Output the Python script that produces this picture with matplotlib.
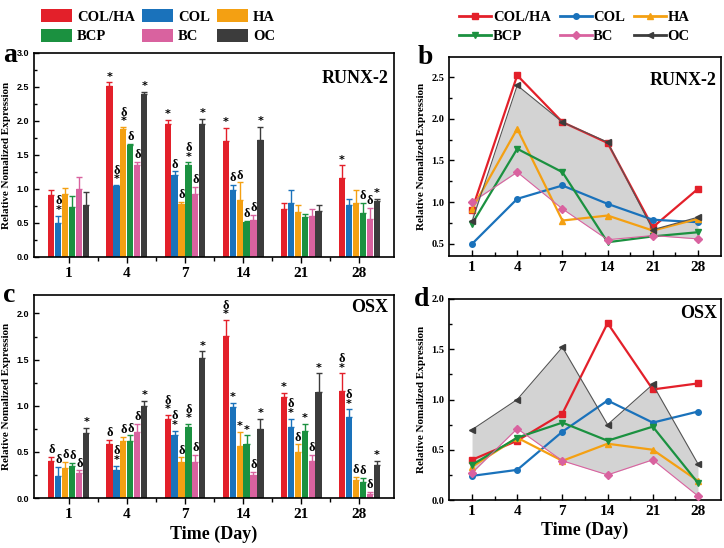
import matplotlib.pyplot as plt
import numpy as np
from matplotlib.patches import Patch
from matplotlib.lines import Line2D
from matplotlib.ticker import MultipleLocator

plt.rcParams['font.family'] = 'Liberation Serif'
plt.rcParams['font.weight'] = 'bold'

days = ['1', '4', '7', '14', '21', '28']
groups = ['COL/HA', 'COL', 'HA', 'BCP', 'BC', 'OC']
colors = ['#E3202A', '#1A72BB', '#F4A012', '#1B9140', '#D9629F', '#3C3C3C']
markers = ['s', 'o', '^', 'v', 'D', '<']

# RUNX-2 means (one list per group, days 1..28)
runx_colha = [0.91, 2.52, 1.96, 1.71, 0.70, 1.16]
runx_col = [0.50, 1.04, 1.20, 0.98, 0.79, 0.76]
runx_ha = [0.92, 1.88, 0.78, 0.84, 0.66, 0.80]
runx_bcp = [0.74, 1.64, 1.36, 0.52, 0.59, 0.64]
runx_bc = [1.00, 1.36, 0.92, 0.55, 0.60, 0.56]
runx_oc = [0.77, 2.40, 1.96, 1.72, 0.67, 0.82]
# upper error bars
runx_colha_err = [0.07, 0.05, 0.06, 0.19, 0.09, 0.19]
runx_col_err = [0.11, 0.02, 0.06, 0.08, 0.19, 0.10]
runx_ha_err = [0.09, 0.03, 0.03, 0.26, 0.10, 0.18]
runx_bcp_err = [0.15, 0.02, 0.03, 0.01, 0.04, 0.16]
runx_bc_err = [0.17, 0.04, 0.11, 0.07, 0.10, 0.16]
runx_oc_err = [0.18, 0.03, 0.07, 0.19, 0.10, 0.04]
# significance marks
runx_colha_sig = ['', '*', '*', '*', '', '*']
runx_col_sig = ['δ*', 'δ*', 'δ', 'δ', '', '']
runx_ha_sig = ['', 'δ*', 'δ', 'δ', '', '']
runx_bcp_sig = ['', 'δ', 'δ*', 'δ', '', 'δ']
runx_bc_sig = ['', 'δ', 'δ', 'δ', '', 'δ']
runx_oc_sig = ['', '*', '*', '*', '', '*']

# OSX means
osx_colha = [0.40, 0.59, 0.86, 1.76, 1.10, 1.16]
osx_col = [0.24, 0.30, 0.68, 0.99, 0.77, 0.88]
osx_ha = [0.33, 0.62, 0.39, 0.56, 0.50, 0.19]
osx_bcp = [0.35, 0.62, 0.77, 0.59, 0.73, 0.17]
osx_bc = [0.27, 0.71, 0.39, 0.25, 0.40, 0.04]
osx_oc = [0.70, 1.00, 1.52, 0.75, 1.15, 0.36]
osx_colha_err = [0.045, 0.04, 0.04, 0.17, 0.04, 0.19]
osx_col_err = [0.10, 0.05, 0.05, 0.04, 0.09, 0.08]
osx_ha_err = [0.06, 0.04, 0.05, 0.16, 0.08, 0.04]
osx_bcp_err = [0.03, 0.06, 0.03, 0.09, 0.07, 0.05]
osx_bc_err = [0.03, 0.09, 0.08, 0.03, 0.07, 0.03]
osx_oc_err = [0.06, 0.05, 0.07, 0.11, 0.20, 0.04]
osx_colha_sig = ['δ', 'δ', 'δ*', 'δ*', '*', 'δ*']
osx_col_sig = ['δ', 'δ*', 'δ*', '*', 'δ*', 'δ*']
osx_ha_sig = ['δ', 'δ', 'δ', '*', 'δ', 'δ']
osx_bcp_sig = ['δ', 'δ', 'δ*', '*', '*', 'δ']
osx_bc_sig = ['δ', 'δ', 'δ', 'δ', 'δ', 'δ']
osx_oc_sig = ['*', '*', '*', '*', '*', '*']

runx_means = [runx_colha, runx_col, runx_ha, runx_bcp, runx_bc, runx_oc]
runx_errs = [runx_colha_err, runx_col_err, runx_ha_err, runx_bcp_err, runx_bc_err, runx_oc_err]
runx_sigs = [runx_colha_sig, runx_col_sig, runx_ha_sig, runx_bcp_sig, runx_bc_sig, runx_oc_sig]
osx_means = [osx_colha, osx_col, osx_ha, osx_bcp, osx_bc, osx_oc]
osx_errs = [osx_colha_err, osx_col_err, osx_ha_err, osx_bcp_err, osx_bc_err, osx_oc_err]
osx_sigs = [osx_colha_sig, osx_col_sig, osx_ha_sig, osx_bcp_sig, osx_bc_sig, osx_oc_sig]

W, H = 724, 548
fig = plt.figure(figsize=(7.24, 5.48), dpi=100)


def px_axes(l, t, r, b):
    return fig.add_axes([l / W, 1 - b / H, (r - l) / W, (b - t) / H])


ax_a = px_axes(34, 53, 394, 257)
ax_b = px_axes(449, 57, 721, 256)
ax_c = px_axes(34, 295, 394, 498)
ax_d = px_axes(449, 299, 721, 500)

x = np.arange(len(days))
step = 0.12
bw = 0.105


def bar_panel(ax, means, errs, sigs, ylim, title, ty):
    for i in range(len(groups)):
        xs = x + (i - 2.5) * step
        ax.bar(xs, means[i], bw, color=colors[i], zorder=2)
        ax.errorbar(xs, means[i], yerr=[np.zeros(len(days)), errs[i]], fmt='none',
                    ecolor=colors[i], elinewidth=1.0, capsize=2.5, capthick=1.0, zorder=2)
        for j in range(len(days)):
            s = sigs[i][j]
            top = means[i][j] + errs[i][j]
            off = 0.5
            if '*' in s:
                ax.annotate('*', (xs[j], top), xytext=(0, off), textcoords='offset points',
                            ha='center', va='bottom', fontsize=8, family='DejaVu Sans', weight='bold')
                off += 5.5
            if 'δ' in s:
                ax.annotate('δ', (xs[j], top), xytext=(0, off), textcoords='offset points',
                            ha='center', va='bottom', fontsize=9)
    ax.set_xlim(-0.6, 5.6)
    ax.set_ylim(*ylim)
    ax.set_xticks(x)
    ax.set_xticks(x[:-1] + 0.5, minor=True)
    ax.set_xticklabels(days, fontsize=11, weight='bold')
    ax.tick_params(axis='x', which='major', direction='out', length=4, width=1)
    ax.tick_params(axis='x', which='minor', direction='out', length=3, width=1)
    ax.yaxis.set_major_locator(MultipleLocator(0.5))
    ax.yaxis.set_minor_locator(MultipleLocator(0.25))
    ax.tick_params(axis='y', which='both', direction='in', width=1, labelsize=6.5)
    ax.tick_params(axis='y', which='major', length=3.5)
    ax.tick_params(axis='y', which='minor', length=2)
    for lab in ax.get_yticklabels():
        lab.set_family('Liberation Sans')
        lab.set_weight('bold')
    for sp in ax.spines.values():
        sp.set_linewidth(1.2)
    ax.text(0.985, ty, title, transform=ax.transAxes, ha='right', va='center', fontsize=13, weight='bold')
    ax.set_ylabel('Relative Nomalized Expression', fontsize=8, weight='bold', labelpad=4)


def line_panel(ax, means, ylim, title, ty):
    ax.fill_between(x, means[4], means[5], color='#D3D3D3', zorder=1, lw=0)
    for i in range(len(groups)):
        thin = i >= 4
        c = '#555555' if i == 5 else colors[i]
        ax.plot(x, means[i], color=c, lw=0.8 if thin else 1.6, marker=markers[i],
                markersize=4, markerfacecolor=colors[i], markeredgecolor=colors[i], zorder=3)
    ax.set_xlim(-0.51, 5.51)
    ax.set_ylim(*ylim)
    ax.set_xticks(x)
    ax.set_xticks(x[:-1] + 0.5, minor=True)
    ax.set_xticklabels(days, fontsize=11, weight='bold')
    ax.tick_params(axis='x', which='major', direction='in', length=4, width=1)
    ax.tick_params(axis='x', which='minor', direction='in', length=3, width=1)
    ax.yaxis.set_minor_locator(MultipleLocator(0.25))
    ax.tick_params(axis='y', which='both', direction='in', width=1, labelsize=7.5)
    ax.tick_params(axis='y', which='major', length=3.5)
    ax.tick_params(axis='y', which='minor', length=2)
    for sp in ax.spines.values():
        sp.set_linewidth(1.2)
    ax.text(0.985, ty, title, transform=ax.transAxes, ha='right', va='center', fontsize=13, weight='bold')
    ax.set_ylabel('Relative Nomalized Expression', fontsize=8, weight='bold', labelpad=4)


bar_panel(ax_a, runx_means, runx_errs, runx_sigs, (0, 3.0), 'RUNX-2', 0.877)
bar_panel(ax_c, osx_means, osx_errs, osx_sigs, (0, 2.2), 'OSX', 0.936)
line_panel(ax_b, runx_means, (0.355, 2.74), 'RUNX-2', 0.884)
ax_b.yaxis.set_major_locator(MultipleLocator(0.5))
line_panel(ax_d, osx_means, (0, 2.0), 'OSX', 0.93)
ax_d.yaxis.set_major_locator(MultipleLocator(0.5))

ax_c.set_xlabel('Time (Day)', fontsize=13, weight='bold', labelpad=3)
ax_d.set_xlabel('Time (Day)', fontsize=13, weight='bold', labelpad=3)

fig.text(3 / W, 1 - 55 / H, 'a', fontsize=20, weight='bold', va='center')
fig.text(418 / W, 1 - 57 / H, 'b', fontsize=20, weight='bold', va='center')
fig.text(3 / W, 1 - 295 / H, 'c', fontsize=20, weight='bold', va='center')
fig.text(414 / W, 1 - 299 / H, 'd', fontsize=20, weight='bold', va='center')

order = [0, 3, 1, 4, 2, 5]
patch_handles = [Patch(facecolor=colors[i]) for i in order]
fig.legend(patch_handles, [groups[i] for i in order], ncol=3, loc='upper left',
           bbox_to_anchor=(34 / W, 1 - 2 / H), frameon=False, borderpad=0,
           handlelength=2.1, handleheight=1.0, handletextpad=0.35, columnspacing=0.5,
           labelspacing=0.35, prop={'family': 'Liberation Serif', 'weight': 'bold', 'size': 10.5})
line_handles = [Line2D([], [], color=colors[i], marker=markers[i], markersize=4, lw=2) for i in order]
fig.legend(line_handles, [groups[i] for i in order], ncol=3, loc='upper left',
           bbox_to_anchor=(452 / W, 1 - 4 / H), frameon=False, borderpad=0,
           handlelength=2.2, handletextpad=0.1, columnspacing=0.6,
           labelspacing=0.35, prop={'family': 'Liberation Serif', 'weight': 'bold', 'size': 10.5})

fig.savefig('out.png', dpi=100)
